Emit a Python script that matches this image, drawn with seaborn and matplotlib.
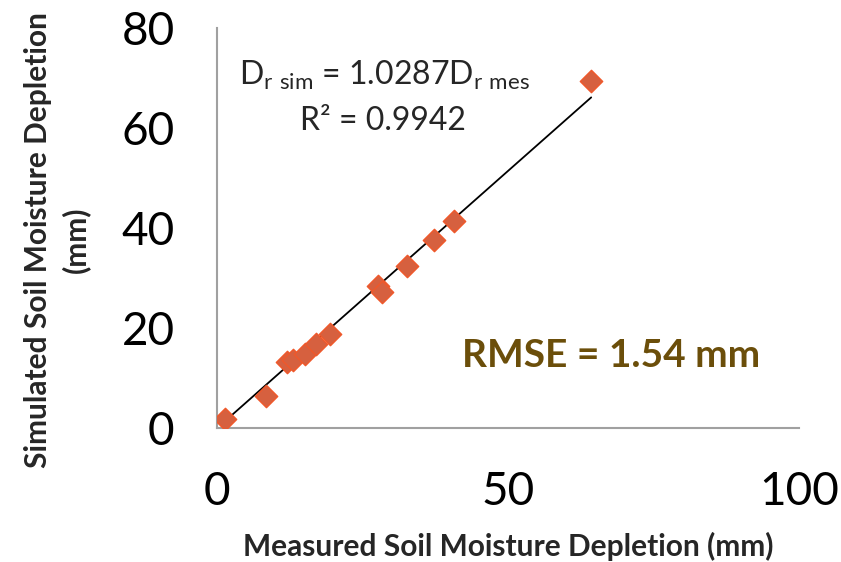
import matplotlib
matplotlib.use("Agg")
import matplotlib.pyplot as plt
import seaborn as sns
import numpy as np
import pandas as pd

measured = [1.4, 8.4, 12.1, 13.1, 15.1, 17.0, 19.4, 27.7, 28.4, 32.6, 37.3, 40.8, 64.3]
simulated = [1.9, 6.4, 13.3, 13.6, 14.8, 16.8, 18.9, 28.4, 27.3, 32.5, 37.7, 41.4, 69.4]
slope = 1.0287
x_ticks = [0, 50, 100]
y_ticks = [0, 20, 40, 60, 80]

sns.set_theme(style="white")
plt.rcParams['font.family'] = ['Lato', 'DejaVu Sans']

fig = plt.figure(figsize=(8.41, 5.62), dpi=100)
ax = fig.add_axes([0.258, 0.238, 0.692, 0.712])

df = pd.DataFrame({"measured": measured, "simulated": simulated})
trend = pd.DataFrame({"x": [min(measured), max(measured)]})
trend["y"] = slope * trend["x"]

sns.lineplot(data=trend, x="x", y="y", ax=ax, color="black", linewidth=1.3, zorder=2)
sns.scatterplot(data=df, x="measured", y="simulated", ax=ax, marker="D", s=130,
                color="#d6603f", edgecolor="#f0582a", linewidth=1.0, zorder=3)

ax.set_xlim(0, 100)
ax.set_ylim(0, 80)
ax.set_xticks(x_ticks)
ax.set_yticks(y_ticks)
ax.tick_params(axis="both", labelsize=33, colors="#a0a0a0", length=10.5, width=1.5,
               direction="out", labelcolor="black")
ax.tick_params(axis="x", pad=20)
ax.tick_params(axis="y", pad=20)
for side in ["top", "right"]:
    ax.spines[side].set_visible(False)
for side in ["left", "bottom"]:
    ax.spines[side].set_color("#a0a0a0")
    ax.spines[side].set_linewidth(1.5)

ax.set_xlabel("Measured Soil Moisture Depletion (mm)", fontsize=21.5, fontweight="bold")
ax.xaxis.set_label_coords(0.5, -0.26)
ax.set_ylabel("Simulated Soil Moisture Depletion\n(mm)", fontsize=21.5, fontweight="bold",
              linespacing=1.4)
ax.yaxis.set_label_coords(-0.218, 0.47)

ax.text(28.7, 70.5, r"D$_{\mathregular{r\ sim}}$ = 1.0287D$_{\mathregular{r\ mes}}$", fontsize=23,
        ha="center", va="center")
ax.text(28.5, 61.4, "R² = 0.9942", fontsize=23, ha="center", va="center")
ax.text(67.8, 14.6, "RMSE = 1.54 mm", fontsize=28, fontweight="bold", color="#6b4e0a",
        ha="center", va="center")

fig.savefig("out.png", dpi=100)
